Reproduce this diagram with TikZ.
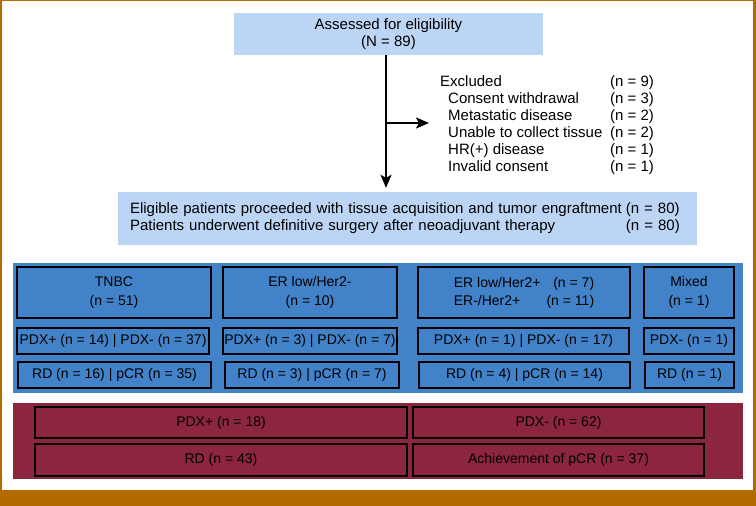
\documentclass[tikz,border=0pt]{standalone}
\usepackage{fontspec}
\setmainfont{Liberation Sans}
\usetikzlibrary{arrows.meta}
\definecolor{lblue}{HTML}{BDD5F4}
\definecolor{mblue}{HTML}{4282C9}
\definecolor{wine}{HTML}{8C253E}
\definecolor{ochre}{HTML}{B56A00}
\begin{document}
\begin{tikzpicture}[x=1pt,y=-1pt,
  lightbox/.style={fill=lblue, draw=none, inner sep=0pt, align=center, font=\fontsize{15}{17}\selectfont},
  bluebox/.style={draw=black, line width=2pt, fill=mblue, align=center, inner sep=0pt, font=\fontsize{14}{19}\selectfont},
  winebox/.style={draw=black, line width=2pt, fill=wine, inner sep=0pt, font=\fontsize{14}{17}\selectfont},
  panel/.style={inner sep=0pt, draw=none},
  conn/.style={line width=2pt, -{Stealth[length=13pt,width=11pt,inset=3pt]}}]
\fill[ochre] (0,0) rectangle (756,506);
\fill[white] (2,1) rectangle (753,490);
\useasboundingbox (0,0) rectangle (756,506);

% top
\node[lightbox, minimum width=309pt, minimum height=42pt] (top) at (388.5,34) {Assessed for eligibility\\(N = 89)};
\node[lightbox, minimum height=53pt, text width=555pt, inner xsep=12pt, align=left] (elig) at (407.5,218.5)
  {\begin{tabular}{@{}p{496pt}@{}l@{}}
   Eligible patients proceeded with tissue acquisition and tumor engraftment & (n = 80)\\
   Patients underwent definitive surgery after neoadjuvant therapy & (n = 80)
   \end{tabular}};
\node[anchor=north west, inner sep=0pt, font=\fontsize{15}{17}\selectfont] (excl) at (440,74)
  {\begin{tabular}{@{}p{170pt}@{}l@{}}
   Excluded & (n = 9)\\
   \hspace*{8pt}Consent withdrawal & (n = 3)\\
   \hspace*{8pt}Metastatic disease & (n = 2)\\
   \hspace*{8pt}Unable to collect tissue & (n = 2)\\
   \hspace*{8pt}HR(+) disease & (n = 1)\\
   \hspace*{8pt}Invalid consent & (n = 1)
   \end{tabular}};
\coordinate (vx) at (386,0);
\coordinate (br) at (386,123);
\draw[line width=2pt] (top.south -| vx) -- (br);
\draw[conn, shorten >=4pt] (br) -- (elig.north -| vx);
\draw[conn, shorten >=11pt] (br) -- (excl.west |- br);

% blue panel
\node[panel, fill=mblue, minimum width=730pt, minimum height=130pt] (bluepanel) at (378,328) {};
\node[bluebox, minimum width=194pt, minimum height=51pt] (tnbc) at (114,292.5) {TNBC\\(n = 51)};
\node[bluebox, minimum width=174pt, minimum height=51pt] (erlow) at (310,292.5) {ER low/Her2-\\(n = 10)};
\node[bluebox, minimum width=212pt, minimum height=51pt, font=\fontsize{14}{18}\selectfont] (herpos) at (524,292.5)
  {\begin{tabular}{@{}l@{\hspace{6pt}}r@{}}ER low/Her2+ & (n = 7)\\ ER-/Her2+ & (n = 11)\end{tabular}};
\node[bluebox, minimum width=90pt, minimum height=51pt] (mixed) at (689,292.5) {Mixed\\(n = 1)};

\node[bluebox, minimum width=192pt, minimum height=26pt] (tnbcpdx) at (113,341) {PDX+ (n = 14) | PDX- (n = 37)};
\node[bluebox, minimum width=174pt, minimum height=26pt] (erlowpdx) at (310,341) {PDX+ (n = 3) | PDX- (n = 7)};
\node[bluebox, minimum width=211pt, minimum height=26pt] (herpospdx) at (523.5,341) {PDX+ (n = 1) | PDX- (n = 17)};
\node[bluebox, minimum width=90pt, minimum height=26pt] (mixedpdx) at (689,341) {PDX- (n = 1)};

\node[bluebox, minimum width=193pt, minimum height=26pt] (tnbcrd) at (114.5,375) {RD (n = 16) | pCR (n = 35)};
\node[bluebox, minimum width=174pt, minimum height=26pt] (erlowrd) at (312,375) {RD (n = 3) | pCR (n = 7)};
\node[bluebox, minimum width=211pt, minimum height=26pt] (herposrd) at (524.5,375) {RD (n = 4) | pCR (n = 14)};
\node[bluebox, minimum width=89pt, minimum height=26pt] (mixedrd) at (689.5,375) {RD (n = 1)};

% wine panel
\node[panel, fill=wine, minimum width=730pt, minimum height=76pt] (winepanel) at (378,441) {};
\node[winebox, minimum width=372pt, minimum height=31pt] (pdxpos) at (221,422.5) {PDX+ (n = 18)};
\node[winebox, minimum width=291pt, minimum height=31pt] (pdxneg) at (558.5,422.5) {PDX- (n = 62)};
\node[winebox, minimum width=372pt, minimum height=32pt] (rdall) at (221,460) {RD (n = 43)};
\node[winebox, minimum width=291pt, minimum height=32pt] (pcrall) at (558.5,460) {Achievement of pCR (n = 37)};
\end{tikzpicture}
\end{document}
